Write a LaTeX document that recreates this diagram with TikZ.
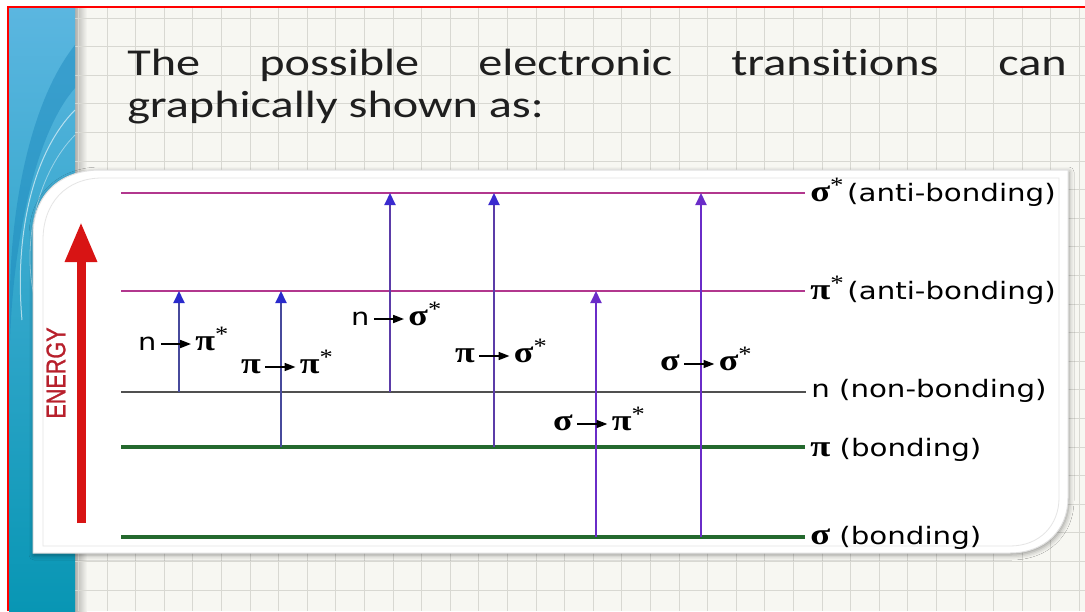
\documentclass[tikz,border=0pt]{standalone}
\usepackage{fontspec}
\setmainfont{DejaVu Sans}
\newfontfamily\titlefont{Carlito}[Ligatures=NoCommon]
\newfontfamily\greekfont{Liberation Serif}
\newfontfamily\axisfont{Liberation Sans}[FakeStretch=0.8,FakeBold=1]
\usetikzlibrary{arrows.meta,shadows.blur}

\definecolor{stripTop}{HTML}{5BB6E0}
\definecolor{stripBot}{HTML}{0896B4}
\definecolor{stripDark}{HTML}{1A86BC}
\definecolor{gridbg}{HTML}{F7F7F2}
\definecolor{gridln}{HTML}{D8D8D2}
\definecolor{antiC}{HTML}{B2378E}
\definecolor{nonC}{HTML}{505050}
\definecolor{bondC}{HTML}{24692E}
\definecolor{trA}{HTML}{474A9C}
\definecolor{trAhead}{HTML}{2A2ACC}
\definecolor{trB}{HTML}{5B3CA8}
\definecolor{trBhead}{HTML}{3A2ACF}
\definecolor{trC}{HTML}{6A2CC8}
\definecolor{energyC}{HTML}{D81414}
\definecolor{energyTxt}{HTML}{B8202C}

% Greek orbital symbols, superscript star and the small reaction arrow
\newcommand\gsig{{\greekfont\bfseries\fontsize{30}{30}\selectfont σ}}
\newcommand\gpi{{\greekfont\bfseries\fontsize{30}{30}\selectfont π}}
\newcommand\starsup{\raisebox{9pt}{\greekfont\fontsize{22}{22}\selectfont *}}
\newcommand\tto{\hspace{3pt}\tikz[baseline=-6pt]\draw[black,line width=1.5pt,-{Triangle[length=9pt,width=8pt]}] (0pt,0pt) -- (25pt,0pt);\hspace{3pt}}

\begin{document}
\begin{tikzpicture}[x=1pt,y=-1pt,
  txt/.style={inner sep=0pt, xscale=1.2, font=\fontsize{24}{24}\selectfont},
  lvl/.style={inner sep=0pt, xscale=1.22, font=\fontsize{24}{24}\selectfont, anchor=base west},
  ttl/.style={inner sep=0pt, xscale=1.27, text=black!88, font=\titlefont\fontsize{38}{38}\selectfont, anchor=base west},
  level anti/.style={antiC, line width=1.6pt},
  level non/.style={nonC, line width=1.8pt},
  level bond/.style={bondC, line width=3.6pt},
  trans a/.style={trA, line width=2pt, -{Triangle[length=12pt,width=11pt,color=trAhead]}},
  trans b/.style={trB, line width=2pt, -{Triangle[length=12pt,width=11pt,color=trBhead]}},
  trans c/.style={trC, line width=2pt, -{Triangle[length=12pt,width=11pt]}},
  gridline/.style={gridln, line width=0.8pt},
  panel outline/.style={insert path={(33,553) -- (33,235) .. controls (33,195) and (60,170) .. (100,170) -- (1068,170) -- (1068,498) .. controls (1068,530) and (1045,553) .. (1010,553) -- cycle}},
]
\useasboundingbox (0,0) rectangle (1085,611);
\fill[white] (0,0) rectangle (1085,611);

% squared paper background
\fill[gridbg] (75,8) rectangle (1085,611);
\shade[left color=gridbg!72!black, right color=gridbg] (75,8) rectangle (87,611);
\foreach \i in {0,...,35} \draw[gridline] ({78.4+28.6*\i},8) -- ({78.4+28.6*\i},611);
\foreach \j in {0,...,20} \draw[gridline] (75,{18+28.6*\j}) -- (1085,{18+28.6*\j});

% blue side band with swooshes
\shade[top color=stripTop, bottom color=stripBot] (9,8) rectangle (75,611);
\fill[stripDark, opacity=0.45] (75,45) .. controls (35,95) and (12,190) .. (10,290) -- (10,340) .. controls (14,230) and (38,130) .. (75,88) -- cycle;
\draw[white, opacity=0.6, line width=1pt] (75,110) .. controls (35,150) and (14,230) .. (22,320);
\draw[white, opacity=0.45, line width=0.8pt] (75,135) .. controls (40,170) and (20,240) .. (35,300);

% frame
\draw[red, line width=2.5pt] (8,611) -- (8,7) -- (1085,7);

% title
\node[ttl] (w1) at (127,75) {The};
\node[ttl] (w2) at (259,75) {possible};
\node[ttl] (w3) at (478,75) {electronic};
\node[ttl] (w4) at (731,75) {transitions};
\node[ttl] (w5) at (998,75) {can};
\node[ttl] (w6) at (127,117) {graphically shown as:};

% white diagram panel
\path[fill=white, draw=black!12, line width=1pt,
      blur shadow={shadow xshift=1pt, shadow yshift=-2pt, shadow blur radius=5pt, shadow opacity=40},
      panel outline];
\draw[black!10, line width=0.8pt] (43,546) -- (43,240) .. controls (43,203) and (66,178) .. (102,178) -- (1059,178) -- (1059,498) .. controls (1059,525) and (1040,546) .. (1010,546) -- cycle;

% energy axis
\coordinate (eb) at (81,523);
\coordinate (et) at (81,222);
\draw[energyC, line width=9pt, -{Triangle[length=40pt,width=30pt]}] (eb) -- (et);
\node[energyTxt, rotate=90, inner sep=0pt, font=\axisfont\fontsize{27}{27}\selectfont] (elab) at (56,373) {ENERGY};

% orbital labels
\node[lvl] (Lss) at (810,201) {\gsig\starsup\hspace{3pt}(anti-bonding)};
\node[lvl] (Lps) at (810,299) {\gpi\starsup\hspace{3pt}(anti-bonding)};
\node[lvl] (Ln)  at (811,397) {n (non-bonding)};
\node[lvl] (Lp)  at (810,456) {\gpi{} (bonding)};
\node[lvl] (Ls)  at (810,544) {\gsig{} (bonding)};

% energy levels
\coordinate (ss0) at (121,193);
\coordinate (ps0) at (121,291);
\coordinate (n0)  at (121,392);
\coordinate (p0)  at (121,447);
\coordinate (s0)  at (121,537);
\draw[level anti] (ss0) -- ([xshift=-5pt]ss0 -| Lss.west);
\draw[level anti] (ps0) -- ([xshift=-5pt]ps0 -| Lps.west);
\draw[level non]  (n0)  -- ([xshift=-5pt]n0 -| Ln.west);
\draw[level bond] (p0)  -- ([xshift=-5pt]p0 -| Lp.west);
\draw[level bond] (s0)  -- ([xshift=-5pt]s0 -| Ls.west);

% transitions
\coordinate (t1a) at (179,392); \coordinate (t1b) at (179,291);
\coordinate (t2a) at (281,447); \coordinate (t2b) at (281,291);
\coordinate (t3a) at (390,392); \coordinate (t3b) at (390,193);
\coordinate (t4a) at (494,447); \coordinate (t4b) at (494,193);
\coordinate (t5a) at (596,537); \coordinate (t5b) at (596,291);
\coordinate (t6a) at (701,537); \coordinate (t6b) at (701,193);
\draw[trans a] (t1a) -- (t1b);
\draw[trans a] (t2a) -- (t2b);
\draw[trans b] (t3a) -- (t3b);
\draw[trans b] (t4a) -- (t4b);
\draw[trans c] (t5a) -- (t5b);
\draw[trans c] (t6a) -- (t6b);

% transition labels
\node[txt, anchor=base west] (l1) at (138,350) {n\tto\gpi\starsup};
\node[txt, anchor=base west] (l2) at (241,373) {\gpi\tto\gpi\starsup};
\node[txt, anchor=base west] (l3) at (351,325) {n\tto\gsig\starsup};
\node[txt, anchor=base west] (l4) at (455,362) {\gpi\tto\gsig\starsup};
\node[txt, anchor=base west] (l5) at (553,430) {\gsig\tto\gpi\starsup};
\node[txt, anchor=base west] (l6) at (660,370) {\gsig\tto\gsig\starsup};
\end{tikzpicture}
\end{document}
